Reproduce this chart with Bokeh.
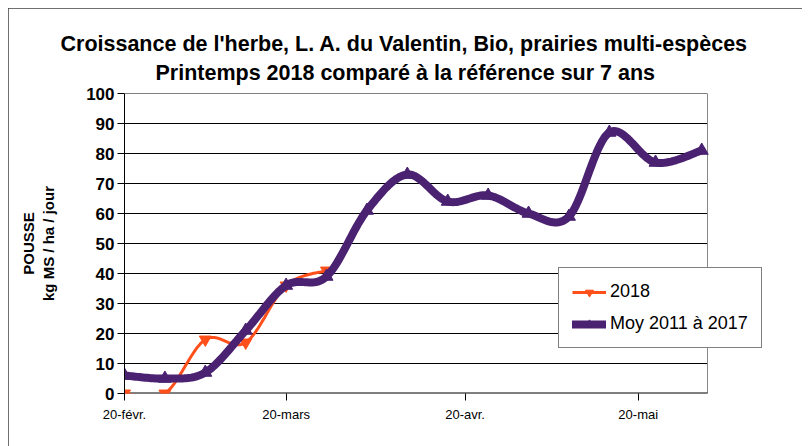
import numpy as np
import pandas as pd
from bokeh.plotting import figure
from bokeh.models import FixedTicker, Legend, LegendItem, Range1d, Title
from bokeh.embed import file_html
from bokeh.resources import INLINE

# ---- data ----
start_date = "2018-02-20"
end_date = "2018-06-01"
dates_2018 = ["2018-02-20", "2018-02-27", "2018-03-06", "2018-03-13", "2018-03-20", "2018-03-27"]
values_2018 = [0, 0, 18, 17, 36, 41]
dates_ref = ["2018-02-20", "2018-02-27", "2018-03-06", "2018-03-13", "2018-03-20", "2018-03-27",
             "2018-04-03", "2018-04-10", "2018-04-17", "2018-04-24", "2018-05-01", "2018-05-08",
             "2018-05-15", "2018-05-23", "2018-05-31"]
values_ref = [6, 5, 7, 21, 36, 39, 61, 73, 64, 66, 60, 59, 87, 77, 81]
x_tick_dates = ["2018-02-20", "2018-03-20", "2018-04-20", "2018-05-20"]
x_tick_labels = ["20-févr.", "20-mars", "20-avr.", "20-mai"]
y_ticks = [0, 10, 20, 30, 40, 50, 60, 70, 80, 90, 100]
series_labels = ["2018", "Moy 2011 à 2017"]
title_lines = ["Croissance de l'herbe, L. A. du Valentin, Bio, prairies multi-espèces",
               "Printemps 2018 comparé à la référence sur 7 ans"]
y_label_lines = ["POUSSE", "kg MS / ha / jour"]

ORANGE = "#ff4f1a"
PURPLE = "#4a2271"
FONT = "Liberation Sans"

# layout (pixels)
W, H = 794, 438
BL, BR, BT, BB = 116, 20, 85, 53
DATA_PX = 583          # width of the plot area proper
FRAME_PX = W - BL - BR  # frame is wider so that the legend can sit past the plot area
TITLE_OFFSETS = [-64, 31]   # left-aligned offsets that centre each title line on the chart
TITLE_STANDOFFS = [0, 7]


def day(d):
    return (pd.to_datetime(d) - pd.to_datetime(start_date)).days


def smooth(x, y, n=24):
    P = np.column_stack([x, y]).astype(float)
    E = np.vstack([P[0], P, P[-1]])
    t = np.linspace(0, 1, n)[:, None]
    out = []
    for i in range(len(P) - 1):
        p0, p1, p2, p3 = E[i], E[i + 1], E[i + 2], E[i + 3]
        c1 = p1 + (p2 - p0) / 6.0
        c2 = p2 - (p3 - p1) / 6.0
        seg = (1 - t) ** 3 * p1 + 3 * (1 - t) ** 2 * t * c1 + 3 * (1 - t) * t ** 2 * c2 + t ** 3 * p2
        out.append(seg if i == 0 else seg[1:])
    S = np.vstack(out)
    return S[:, 0], S[:, 1]


x18 = [day(d) for d in dates_2018]
xref = [day(d) for d in dates_ref]
x_end = day(end_date)

p = figure(width=W, height=H,
           x_range=Range1d(0, x_end * FRAME_PX / DATA_PX), y_range=Range1d(0, 100),
           output_backend="svg", toolbar_location=None,
           min_border_left=BL, min_border_right=BR, min_border_top=BT, min_border_bottom=BB)
p.styles = {"margin": "8px 0 0 8px", "outline": "1px solid #404040", "outline-offset": "-1px"}
p.background_fill_color = "white"
p.border_fill_color = "white"
p.outline_line_color = None
p.title.visible = False

# small spacer between the plot area and the title block
p.add_layout(Title(text=" ", text_font_size="3px", standoff=0), "above")
for idx in [1, 0]:
    p.add_layout(Title(text=title_lines[idx], align="left", offset=TITLE_OFFSETS[idx],
                       text_font=FONT, text_font_size="21.5px", text_font_style="bold",
                       text_color="black", standoff=TITLE_STANDOFFS[idx]), "above")

# axes
p.xaxis.ticker = FixedTicker(ticks=[day(d) for d in x_tick_dates])
p.xaxis.major_label_overrides = {day(d): lab for d, lab in zip(x_tick_dates, x_tick_labels)}
p.xaxis.major_label_text_font = FONT
p.xaxis.major_label_text_font_size = "13px"
p.xaxis.major_label_text_color = "black"
p.xaxis.major_label_standoff = 6
p.xaxis.major_tick_out = 7
p.xaxis.major_tick_in = 0
p.xaxis.minor_tick_line_color = None
p.xaxis.axis_line_color = None
p.xaxis.major_tick_line_color = "black"

p.yaxis.ticker = FixedTicker(ticks=y_ticks)
p.yaxis.major_label_text_font = FONT
p.yaxis.major_label_text_font_size = "17px"
p.yaxis.major_label_text_font_style = "bold"
p.yaxis.major_label_text_color = "black"
p.yaxis.major_label_standoff = 3
p.yaxis.major_tick_out = 7
p.yaxis.major_tick_in = 0
p.yaxis.minor_tick_line_color = None
p.yaxis.axis_line_color = "black"
p.yaxis.major_tick_line_color = "black"
p.yaxis.axis_label = "\n".join(y_label_lines)
p.yaxis.axis_label_text_font = FONT
p.yaxis.axis_label_text_font_size = "15px"
p.yaxis.axis_label_text_font_style = "bold"
p.yaxis.axis_label_text_color = "black"
p.yaxis.axis_label_standoff = 26

p.xgrid.grid_line_color = None
p.ygrid.grid_line_color = None

# plot-area grid, right edge and bottom axis line (limited to the plot area)
p.segment(x0=[0] * (len(y_ticks) - 1), x1=[x_end] * (len(y_ticks) - 1),
          y0=y_ticks[1:], y1=y_ticks[1:], line_color="black", line_width=1)
p.segment(x0=[x_end], x1=[x_end], y0=[y_ticks[0]], y1=[y_ticks[-1]], line_color="#888888", line_width=1)
p.segment(x0=[0], x1=[x_end], y0=[0], y1=[0], line_color="black", line_width=2)

# series
sx, sy = smooth(x18, values_2018)
l1 = p.line(sx, sy, line_color=ORANGE, line_width=3)
s1 = p.scatter(x18, values_2018, marker="inverted_triangle", size=12,
               fill_color=ORANGE, line_color=ORANGE)
rx, ry = smooth(xref, values_ref)
l2 = p.line(rx, ry, line_color=PURPLE, line_width=8, line_join="round", line_cap="round")
s2 = p.scatter(xref, values_ref, marker="triangle", size=13,
               fill_color=PURPLE, line_color=PURPLE)

legend = Legend(items=[LegendItem(label=series_labels[0], renderers=[l1, s1]),
                       LegendItem(label=series_labels[1], renderers=[l2, s2])],
                location=(434, 45))
legend.margin = 0
legend.padding = 13
legend.spacing = 11
legend.glyph_width = 34
legend.glyph_height = 20
legend.label_height = 20
legend.label_standoff = 4
legend.label_text_font = FONT
legend.label_text_font_size = "18px"
legend.label_text_color = "black"
legend.border_line_color = "black"
legend.border_line_width = 1
legend.background_fill_color = "white"
legend.background_fill_alpha = 1
p.add_layout(legend)

open("out.html", "w").write(file_html(p, INLINE))
